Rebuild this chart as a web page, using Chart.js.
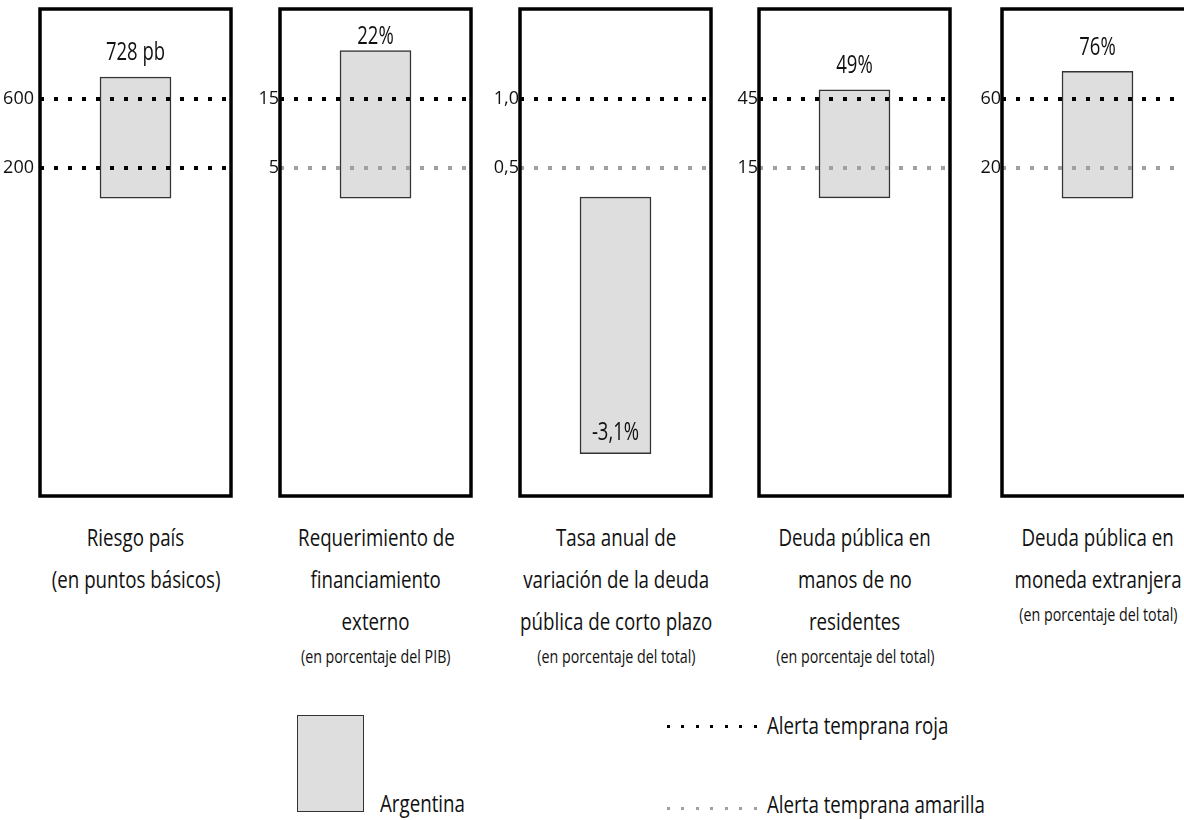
<!DOCTYPE html>
<html lang="es">
<head>
<meta charset="utf-8">
<script src="https://cdn.jsdelivr.net/npm/chart.js@4.4.0/dist/chart.umd.min.js"></script>
<style>
  body { margin: 0; width: 1184px; height: 820px; overflow: hidden; background: #fff; position: relative;
         font-family: 'Open Sans', sans-serif; color: #111; }
  .panel { position: absolute; top: 0; }
  .cap { position: absolute; top: 516px; width: 260px; text-align: center; font-size: 24px; line-height: 42px; }
  .cap span { display: inline-block; transform: scaleX(0.78); white-space: nowrap; }
  .cap .sub { font-size: 19px; line-height: 28px; }
  .cap .sub span { transform: scaleX(0.75); }
  .leg { position: absolute; font-size: 24px; line-height: 28px; white-space: nowrap; transform: scaleX(0.78); transform-origin: 0 50%; }
  .legbox { position: absolute; left: 297px; top: 715px; width: 67px; height: 97px; background: #dedede; border: 1.5px solid #333; box-sizing: border-box; }
  .dots { position: absolute; width: 93px; height: 3px; }
</style>
</head>
<body>
<div id="wrap"></div>
<div class="legbox"></div>
<div class="leg" style="left:380px; top:789px;">Argentina</div>
<div class="dots" style="left:667px; top:725px; background: repeating-linear-gradient(90deg, #000 0 3px, transparent 3px 14.5px);"></div>
<div class="leg" style="left:767px; top:711px;">Alerta temprana roja</div>
<div class="dots" style="left:667px; top:807px; background: repeating-linear-gradient(90deg, #a0a0a0 0 3px, transparent 3px 14.5px);"></div>
<div class="leg" style="left:767px; top:790px;">Alerta temprana amarilla</div>

<script>
// Datos (un panel por indicador)
const captionLines = [
    ['Riesgo país', '(en puntos básicos)'],
    ['Requerimiento de', 'financiamiento', 'externo'],
    ['Tasa anual de', 'variación de la deuda', 'pública de corto plazo'],
    ['Deuda pública en', 'manos de no', 'residentes'],
    ['Deuda pública en', 'moneda extranjera']
];
const captionSub = ['', '(en porcentaje del PIB)', '(en porcentaje del total)', '(en porcentaje del total)', '(en porcentaje del total)'];
const valueLabels = ['728 pb', '22%', '-3,1%', '49%', '76%'];
const barLow = [25, 0.65, -1.57, 2, 2.6];
const barHigh = [728, 22, 0.29, 49, 76];
const redAlert = [600, 15, 1.0, 45, 60];
const yellowAlert = [200, 5, 0.5, 15, 20];
const redTickLabels = ['600', '15', '1,0', '45', '60'];
const yellowTickLabels = ['200', '5', '0,5', '15', '20'];
const axisMin = [-1701, -42.5, -1.877, -127.6, -170.1];
const axisMax = [1122, 28.04, 1.652, 84.13, 112.2];

// Estilo / posiciones
const boxLeft = [40, 280, 520, 759, 1002];
const lowerLineColor = ['#000', '#a0a0a0', '#a0a0a0', '#a0a0a0', '#a0a0a0'];
const tickPad = [6, 1, 1, 1, 1];
const FONT = "'Open Sans', sans-serif";

// Marco negro alrededor del area del grafico
const boxPlugin = {
    id: 'box',
    afterDraw(chart) {
        const a = chart.chartArea, ctx = chart.ctx;
        ctx.save();
        ctx.strokeStyle = '#000';
        ctx.lineWidth = 3.5;
        ctx.strokeRect(a.left, a.top, a.right - a.left, a.bottom - a.top);
        ctx.restore();
    }
};

// Etiqueta del valor sobre (o dentro de) la barra
const valuePlugin = {
    id: 'valueLabel',
    afterDatasetsDraw(chart, args, opts) {
        const bar = chart.getDatasetMeta(0).data[0];
        const top = Math.min(bar.y, bar.base), bottom = Math.max(bar.y, bar.base);
        const txt = opts.text;
        const ctx = chart.ctx;
        const y = txt.startsWith('-') ? bottom - 21 : Math.max(top - 24, chart.chartArea.top + 28);
        ctx.save();
        ctx.font = '25px ' + FONT;
        ctx.fillStyle = '#111';
        ctx.textAlign = 'center';
        ctx.textBaseline = 'middle';
        ctx.translate(bar.x, y);
        ctx.scale(0.74, 1);
        ctx.fillText(txt, 0, 0);
        ctx.restore();
    }
};

const wrap = document.getElementById('wrap');

boxLeft.forEach((left, i) => {
    const div = document.createElement('div');
    div.className = 'panel';
    div.style.left = (left - 40) + 'px';
    const canvas = document.createElement('canvas');
    canvas.width = 240;
    canvas.height = 505;
    div.appendChild(canvas);
    wrap.appendChild(div);

    new Chart(canvas.getContext('2d'), {
        type: 'bar',
        data: {
            labels: ['Argentina'],
            datasets: [{
                data: [[barLow[i], barHigh[i]]],
                backgroundColor: '#dedede',
                borderColor: '#333',
                borderWidth: 1.5,
                borderSkipped: false,
                barThickness: 71
            }]
        },
        options: {
            responsive: false,
            animation: false,
            devicePixelRatio: 1,
            layout: { padding: { top: 9, bottom: 9, right: 9, left: 0 } },
            scales: {
                x: { display: false },
                y: {
                    min: axisMin[i],
                    max: axisMax[i],
                    afterBuildTicks: (scale) => {
                        scale.ticks = [{ value: yellowAlert[i] }, { value: redAlert[i] }];
                    },
                    afterFit: (scale) => {
                        scale.width = 40;
                        scale.paddingTop = 0;
                        scale.paddingBottom = 0;
                    },
                    ticks: {
                        autoSkip: false,
                        padding: tickPad[i],
                        color: '#111',
                        font: { size: 18, family: FONT },
                        callback: (v) => v === redAlert[i] ? redTickLabels[i] : yellowTickLabels[i]
                    },
                    grid: {
                        z: 1,
                        drawTicks: false,
                        lineWidth: 4,
                        color: (c) => c.tick && c.tick.value === redAlert[i] ? '#000' : lowerLineColor[i]
                    },
                    border: { display: false, dash: [4, 10] }
                }
            },
            plugins: {
                legend: { display: false },
                tooltip: { enabled: false },
                valueLabel: { text: valueLabels[i] }
            }
        },
        plugins: [boxPlugin, valuePlugin]
    });

    // Texto del indicador debajo del panel
    const cap = document.createElement('div');
    cap.className = 'cap';
    cap.style.left = (left + 96 - 130) + 'px';
    cap.innerHTML = captionLines[i].map(s => '<div><span>' + s + '</span></div>').join('') +
        (captionSub[i] ? '<div class="sub"><span>' + captionSub[i] + '</span></div>' : '');
    document.body.appendChild(cap);
});
</script>
</body>
</html>
